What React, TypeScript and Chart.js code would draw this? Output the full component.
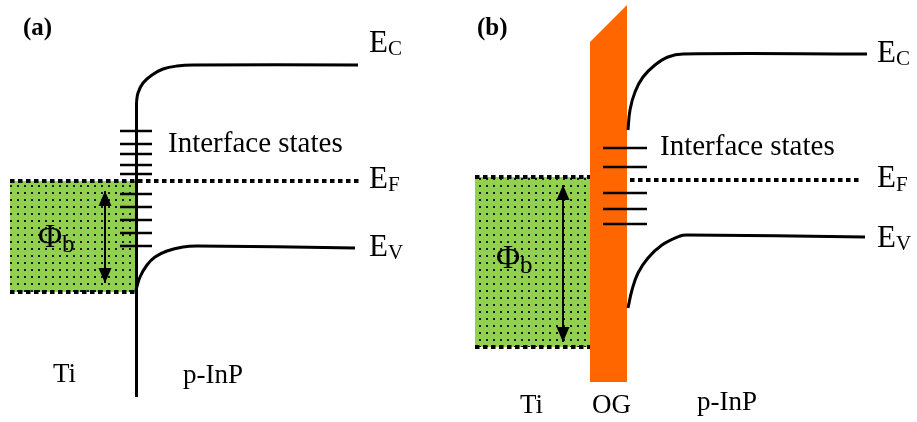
import { useEffect, useRef } from "react";
import { Chart, registerables } from "chart.js";

Chart.register(...registerables);

// Diagram coordinates: x = position across the junction, y = electron energy
// measured downward (drawing units). Both axes are hidden.

// ---------- (a) Ti / p-InP ----------
const condBandA: [number, number][] = [
  [136.5, 102], [138, 93], [143, 83], [152, 75], [163, 69], [177, 66], [193, 65], [358, 65],
];
const valBandA: [number, number][] = [
  [136, 290], [140, 277], [147, 265], [155, 257], [167, 251], [183, 247], [197, 246], [355, 248],
];
const interfaceA: [number, number][] = [[136.5, 102], [136.5, 397]];
const fermiA: [number, number][] = [[10, 181], [360, 181]];
const metalTopA: [number, number][] = [[10, 181], [136, 181]];
const metalBottomA: [number, number][] = [[10, 292], [136, 292]];
const statesA: number[] = [131, 144, 154, 165, 174, 194, 207, 220, 233, 246];
const statesSpanA: [number, number] = [120, 152];
const barrierA: [number, number][] = [[105, 191], [105, 283]];

// ---------- (b) Ti / OG / p-InP ----------
const condBandB: [number, number][] = [
  [628, 130], [630, 110], [635, 92], [643, 77], [655, 65], [668, 57], [683, 54], [867, 54],
];
const valBandB: [number, number][] = [
  [628, 308], [632, 290], [638, 273], [648, 258], [662, 245], [680, 236], [687, 235], [865, 237],
];
const fermiB: [number, number][] = [[630, 180], [860, 180]];
const metalTopB: [number, number][] = [[475, 177], [590, 177]];
const metalBottomB: [number, number][] = [[475, 347], [590, 347]];
const oxideTop: [number, number][] = [[590, 42], [627, 5]];
const oxideBottom: [number, number][] = [[590, 382], [627, 382]];
const statesB: number[] = [148, 167, 193, 209, 224];
const statesSpanB: [number, number] = [603, 647];
const barrierB: [number, number][] = [[563, 185], [563, 342]];

// Text labels (positions in diagram coordinates, y = baseline)
type Label = { text: string; sub?: string; x: number; y: number; font: string; subFont?: string; subDy?: number };
const SERIF = '"Liberation Serif", "Times New Roman", serif';
const labels: Label[] = [
  { text: "(a)", x: 23, y: 35, font: `bold 25px ${SERIF}` },
  { text: "(b)", x: 477, y: 35, font: `bold 25px ${SERIF}` },
  { text: "E", sub: "C", x: 369, y: 52, font: `31px ${SERIF}`, subFont: `21px ${SERIF}`, subDy: 3 },
  { text: "E", sub: "F", x: 369, y: 188, font: `31px ${SERIF}`, subFont: `21px ${SERIF}`, subDy: 3 },
  { text: "E", sub: "V", x: 369, y: 256, font: `31px ${SERIF}`, subFont: `21px ${SERIF}`, subDy: 3 },
  { text: "E", sub: "C", x: 877, y: 62, font: `31px ${SERIF}`, subFont: `21px ${SERIF}`, subDy: 3 },
  { text: "E", sub: "F", x: 877, y: 187, font: `31px ${SERIF}`, subFont: `21px ${SERIF}`, subDy: 4 },
  { text: "E", sub: "V", x: 877, y: 247, font: `31px ${SERIF}`, subFont: `21px ${SERIF}`, subDy: 3 },
  { text: "Interface states", x: 168, y: 152, font: `29px ${SERIF}` },
  { text: "Interface states", x: 660, y: 155, font: `29px ${SERIF}` },
  { text: "\u03A6", sub: "b", x: 38, y: 247, font: `33px ${SERIF}`, subFont: `25px ${SERIF}`, subDy: 5 },
  { text: "\u03A6", sub: "b", x: 496, y: 268, font: `33px ${SERIF}`, subFont: `25px ${SERIF}`, subDy: 5 },
  { text: "Ti", x: 53, y: 382, font: `27px ${SERIF}` },
  { text: "p-InP", x: 183, y: 383, font: `27px ${SERIF}` },
  { text: "Ti", x: 520, y: 413, font: `27px ${SERIF}` },
  { text: "OG", x: 592, y: 413, font: `27px ${SERIF}` },
  { text: "p-InP", x: 697, y: 410, font: `27px ${SERIF}` },
];

const pts = (p: [number, number][]) => p.map(([x, y]) => ({ x, y }));

const solid = (p: [number, number][], width: number, curved = false, order = 0) => ({
  data: pts(p),
  borderColor: "#000000",
  borderWidth: width,
  pointRadius: 0,
  fill: false,
  tension: curved ? 0.4 : 0,
  order,
});

const dotted = (p: [number, number][]) => ({
  data: pts(p),
  borderColor: "#000000",
  borderWidth: 4,
  borderDash: [4.5, 3.5],
  borderCapStyle: "butt",
  pointRadius: 0,
  fill: false,
  order: 1,
});

const areaPair = (top: [number, number][], bottom: [number, number][], bg: any, order: number) => [
  { data: pts(top), borderWidth: 0, borderColor: "rgba(0,0,0,0)", pointRadius: 0, fill: "+1", backgroundColor: bg, order },
  { data: pts(bottom), borderWidth: 0, borderColor: "rgba(0,0,0,0)", pointRadius: 0, fill: false, order },
];

const stateTicks = (levels: number[], span: [number, number]) =>
  levels.map((y) => solid([[span[0], y], [span[1], y]], 2.5, false, 0));

const arrowHeads = {
  id: "arrowHeads",
  afterDatasetsDraw(chart: any) {
    const ctx = chart.ctx as CanvasRenderingContext2D;
    chart.data.datasets.forEach((ds: any, i: number) => {
      if (!ds.doubleArrow) return;
      const pts = chart.getDatasetMeta(i).data;
      const a = pts[0], b = pts[pts.length - 1];
      const head = (tip: any, from: any) => {
        const dx = tip.x - from.x, dy = tip.y - from.y;
        const len = Math.hypot(dx, dy) || 1;
        const ux = dx / len, uy = dy / len;
        const L = 15, W = 6.5;
        ctx.beginPath();
        ctx.moveTo(tip.x, tip.y);
        ctx.lineTo(tip.x - ux * L - uy * W, tip.y - uy * L + ux * W);
        ctx.lineTo(tip.x - ux * L + uy * W, tip.y - uy * L - ux * W);
        ctx.closePath();
        ctx.fillStyle = "#000000";
        ctx.fill();
      };
      ctx.save();
      head(a, b);
      head(b, a);
      ctx.restore();
    });
  },
};

const textLabels = {
  id: "textLabels",
  afterDatasetsDraw(chart: any) {
    const ctx = chart.ctx as CanvasRenderingContext2D;
    const sx = chart.scales.x, sy = chart.scales.y;
    ctx.save();
    ctx.fillStyle = "#000000";
    ctx.textBaseline = "alphabetic";
    ctx.textAlign = "left";
    for (const l of labels) {
      const px = sx.getPixelForValue(l.x);
      const py = sy.getPixelForValue(l.y);
      ctx.font = l.font;
      ctx.fillText(l.text, px, py);
      if (l.sub) {
        const w = ctx.measureText(l.text).width;
        ctx.font = l.subFont || l.font;
        ctx.fillText(l.sub, px + w, py + (l.subDy || 0));
      }
    }
    ctx.restore();
  },
};

export default function App() {
  const ref = useRef<HTMLCanvasElement>(null);

  useEffect(() => {
    const canvas = ref.current!;
    // dotted green fill for the metal side
    const tile = document.createElement("canvas");
    tile.width = 7;
    tile.height = 7;
    const t = tile.getContext("2d")!;
    t.fillStyle = "#92D050";
    t.fillRect(0, 0, 7, 7);
    t.fillStyle = "#1b1b1b";
    t.fillRect(3, 3, 2, 2);
    const metalFill = canvas.getContext("2d")!.createPattern(tile, "repeat");

    const datasets: any[] = [
      ...areaPair(metalTopA, metalBottomA, metalFill, 20),
      ...areaPair(metalTopB, metalBottomB, metalFill, 20),
      ...areaPair(oxideTop, oxideBottom, "#FF6600", 10),
      dotted(fermiA),
      dotted(metalBottomA),
      dotted(metalTopB),
      dotted(metalBottomB),
      dotted(fermiB),
      solid(condBandA, 3, true),
      solid(valBandA, 3, true),
      solid(interfaceA, 3),
      solid(condBandB, 3, true),
      solid(valBandB, 3, true),
      ...stateTicks(statesA, statesSpanA),
      ...stateTicks(statesB, statesSpanB),
      { ...solid(barrierA, 2), doubleArrow: true },
      { ...solid(barrierB, 2), doubleArrow: true },
    ];

    const chart = new Chart(canvas, {
      type: "line",
      data: { datasets },
      options: {
        animation: false,
        responsive: true,
        maintainAspectRatio: false,
        events: [],
        layout: { padding: 0 },
        plugins: { legend: { display: false }, tooltip: { enabled: false } },
        scales: {
          x: { type: "linear", min: 0, max: 917, display: false },
          y: { type: "linear", min: 0, max: 422, reverse: true, display: false },
        },
      } as any,
      plugins: [arrowHeads, textLabels],
    });
    return () => chart.destroy();
  }, []);

  return (
    <div style={{ position: "absolute", left: 0, top: 0, width: 917, height: 422, background: "#ffffff" }}>
      <canvas ref={ref} />
    </div>
  );
}
